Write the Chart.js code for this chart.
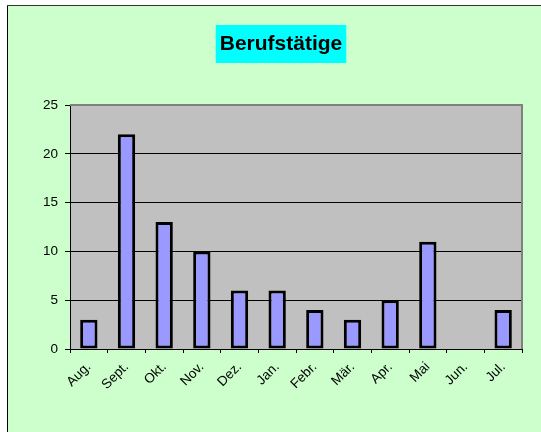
<!DOCTYPE html>
<html>
<head>
<meta charset="utf-8">
<script src="https://cdn.jsdelivr.net/npm/chart.js@4/dist/chart.umd.min.js"></script>
<style>
  html, body { margin: 0; padding: 0; background: #fff; }
  #wrap { width: 541px; height: 432px; }
</style>
</head>
<body>
<div id="wrap"><canvas id="chart" width="541" height="432"></canvas></div>
<script>
const months = ["Aug.", "Sept.", "Okt.", "Nov.", "Dez.", "Jan.", "Febr.", "Mär.", "Apr.", "Mai", "Jun.", "Jul."];
const counts = [3, 22, 13, 10, 6, 6, 4, 3, 5, 11, 0, 4];
const yTicks = [0, 5, 10, 15, 20, 25];
const chartTitle = "Berufstätige";

// green sheet, cyan title box, grey plot frame
const decor = {
  id: "decor",
  beforeDraw(chart) {
    const { ctx, chartArea: a } = chart;
    ctx.save();
    ctx.fillStyle = "#CCFFCC";
    ctx.fillRect(8, 6, 541 - 8, 432 - 6);
    ctx.fillStyle = "#000";
    ctx.fillRect(7, 5, 1, 427);
    ctx.fillStyle = "#333";
    ctx.fillRect(7, 5, 534, 1);

    ctx.fillStyle = "#C0C0C0";
    ctx.fillRect(a.left, a.top, a.right - a.left, a.bottom - a.top);

    // title
    ctx.font = "bold 21px 'Liberation Sans', Arial, sans-serif";
    const w = ctx.measureText(chartTitle).width;
    const cx = 281;
    ctx.fillStyle = "#00FFFF";
    ctx.fillRect(cx - w / 2 - 4, 25, w + 8, 38);
    ctx.fillStyle = "#000";
    ctx.textAlign = "center";
    ctx.textBaseline = "alphabetic";
    ctx.fillText(chartTitle, cx, 50);
    ctx.restore();
  },
  afterDatasetsDraw(chart) {
    const { ctx, chartArea: a } = chart;
    ctx.save();
    ctx.strokeStyle = "#808080";
    ctx.lineWidth = 2;
    ctx.beginPath();
    ctx.moveTo(a.left, a.top);
    ctx.lineTo(a.right, a.top);
    ctx.lineTo(a.right, a.bottom);
    ctx.stroke();
    ctx.restore();
  }
};

new Chart(document.getElementById("chart"), {
  type: "bar",
  data: {
    labels: months,
    datasets: [{
      data: counts,
      backgroundColor: "#9999FF",
      borderColor: "#000",
      borderWidth: 3,
      borderSkipped: false,
      categoryPercentage: 1,
      barPercentage: 0.46
    }]
  },
  options: {
    responsive: false,
    animation: false,
    layout: { padding: { top: 105, right: 19, left: 0, bottom: 0 } },
    plugins: {
      legend: { display: false },
      title: { display: false },
      tooltip: { enabled: false }
    },
    scales: {
      x: {
        afterFit: s => { s.height = 83; },
        grid: { drawOnChartArea: false, color: "#000", tickLength: 4, offset: true },
        border: { color: "#000", width: 1 },
        ticks: {
          color: "#000",
          font: { family: "'Liberation Sans', Arial", size: 13.5 },
          maxRotation: 45, minRotation: 45,
          autoSkip: false,
          padding: 6
        }
      },
      y: {
        min: 0, max: 25,
        afterFit: s => { s.width = 70; },
        afterBuildTicks: s => { s.ticks = yTicks.map(v => ({ value: v })); },
        grid: {
          color: c => (c.tick && c.tick.value === 25) ? "rgba(0,0,0,0)" : "#000",
          tickColor: "#000",
          tickLength: 5,
          lineWidth: 1
        },
        border: { color: "#000", width: 1 },
        ticks: {
          color: "#000",
          font: { family: "'Liberation Sans', Arial", size: 13.5 },
          padding: 7
        }
      }
    }
  },
  plugins: [decor]
});
</script>
</body>
</html>
